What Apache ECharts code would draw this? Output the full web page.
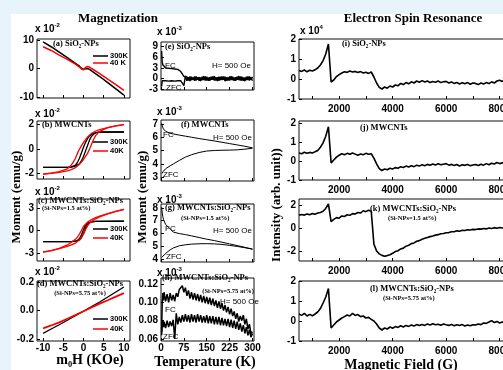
<!DOCTYPE html>
<html>
<head>
<meta charset="utf-8">
<script src="https://cdn.jsdelivr.net/npm/echarts@6/dist/echarts.min.js"></script>
<style>
html, body { margin: 0; padding: 0; overflow: hidden; background: #e8f4fb; }
#chart { width: 520px; height: 370px; }
</style>
</head>
<body>
<div id="chart"></div>
<script>
// ---------- M-H loops (x10^-2 emu/g), field in KOe ----------
const aBlack = [[-10,9.3],[-8,7.6],[-6,5.7],[-4,3.8],[-2,1.8],[-1,0.8],[-0.5,0.1],[0,-0.3],[0.5,-0.1],[1,0.0],[1.5,-0.3],[2,-0.8],[4,-2.8],[6,-4.9],[8,-7.1],[10,-9.3]];
const aRed = [[-10,7.6],[-8,6.3],[-6,4.7],[-4,3.2],[-2,1.5],[-1,0.5],[-0.5,-0.2],[0,-0.5],[0.5,0.4],[1,0.7],[1.5,0.5],[2,0.0],[4,-1.8],[6,-3.7],[8,-5.6],[10,-7.6]];

const bBlackUp = [[-10,-1.5],[-4,-1.5],[-3,-1.47],[-2,-1.4],[-1,-1.2],[-0.5,-0.95],[0,-0.6],[0.5,-0.15],[1,0.3],[1.5,0.75],[2,1.05],[2.5,1.22],[3,1.32],[4,1.39],[10,1.4]];
const bBlackDown = [[10,1.4],[4,1.4],[3,1.35],[2,1.22],[1.5,1.08],[1,0.85],[0.5,0.55],[0,0.15],[-0.5,-0.3],[-1,-0.75],[-1.5,-1.1],[-2,-1.32],[-3,-1.45],[-4,-1.5],[-10,-1.5]];
const bRedUp = [[-10,-2.05],[-8,-1.98],[-6,-1.9],[-4,-1.78],[-3,-1.68],[-2,-1.52],[-1,-1.25],[0,-0.85],[1,-0.35],[1.5,0.0],[2,0.4],[2.5,0.8],[3,1.1],[4,1.45],[6,1.76],[8,1.9],[10,2.0]];
const bRedDown = [[10,2.0],[8,1.9],[6,1.76],[4,1.6],[3,1.48],[2,1.3],[1,1.0],[0,0.55],[-1,0.0],[-1.5,-0.35],[-2,-0.75],[-2.5,-1.05],[-3,-1.3],[-4,-1.62],[-6,-1.85],[-8,-1.97],[-10,-2.05]];

const cBlackUp = [[-10,-1.5],[-3,-1.5],[-2,-1.45],[-1,-1.3],[-0.5,-1.0],[0,-0.4],[0.5,0.3],[1,0.8],[1.5,1.05],[2,1.15],[3,1.2],[10,1.22]];
const cBlackDown = [[10,1.22],[3,1.2],[2,1.15],[1,1.0],[0.5,0.7],[0,0.1],[-0.5,-0.6],[-1,-1.1],[-1.5,-1.35],[-2,-1.45],[-3,-1.5],[-10,-1.5]];
const cRedUp = [[-10,-2.9],[-8,-2.7],[-6,-2.45],[-4,-2.15],[-3,-1.95],[-2,-1.7],[-1,-1.3],[0,-0.5],[0.5,0.1],[1,0.6],[1.5,0.95],[2,1.2],[3,1.55],[4,1.8],[6,2.2],[8,2.55],[10,2.8]];
const cRedDown = [[10,2.8],[8,2.55],[6,2.25],[4,1.9],[3,1.7],[2,1.45],[1,1.1],[0,0.55],[-0.5,0.0],[-1,-0.5],[-1.5,-0.9],[-2,-1.2],[-3,-1.6],[-4,-1.95],[-6,-2.4],[-8,-2.7],[-10,-2.9]];

const dBlack = [[-10,-0.16],[-8,-0.13],[-6,-0.1],[-4,-0.068],[-2,-0.036],[0,-0.005],[2,0.027],[4,0.06],[6,0.095],[8,0.13],[10,0.165]];
const dRed = [[-10,-0.125],[-8,-0.105],[-6,-0.083],[-4,-0.058],[-2,-0.032],[0,-0.005],[2,0.022],[4,0.048],[6,0.072],[8,0.097],[10,0.122]];

// ---------- M-T curves (x10^-3 emu/g), temperature in K ----------
const tempNoisy = [2,4,6,8,10,15,20,25,30,35,40,45,50,55,60,65,70,75,80,85,90,95,100,105,110,115,120,125,130,135,140,145,150,155,160,165,170,175,180,185,190,195,200,205,210,215,220,225,230,235,240,245,250,255,260,265,270,275,280,285,290,295,300];
const eFC = [7.8,4.6,3.9,3.4,3.6,3.0,3.5,2.9,3.4,2.8,3.3,2.7,3.2,2.6,2.8,2.0,1.6,0.6,0.9,
  0.5,-0.5,0.6,-0.4,0.3,-0.6,0.6,-0.3,0.4,-0.7,0.5,-0.4,0.6,-0.5,0.3,-0.6,0.5,-0.3,0.7,-0.5,
  0.4,-0.6,0.5,-0.4,0.6,-0.7,0.3,-0.5,0.6,-0.4,0.5,-0.6,0.4,-0.3,0.7,-0.5,0.5,-0.6,0.3,-0.4,0.6,-0.5,0.4,-0.6];
const eZFC = [-2.2,-0.6,-0.3,-0.7,-0.4,-0.6,-0.3,-0.7,-0.4,-0.6,-0.3,-0.7,-0.4,-0.6,-0.3,-0.6,-0.4,-2.0,0.8,
  -0.6,0.4,-0.7,0.5,-0.3,0.6,-0.5,0.4,-0.6,0.3,-0.4,0.7,-0.5,0.5,-0.6,0.4,-0.3,0.6,-0.5,0.4,
  -0.7,0.5,-0.4,0.6,-0.3,0.5,-0.6,0.4,-0.5,0.7,-0.4,0.3,-0.6,0.5,-0.4,0.6,-0.5,0.3,-0.7,0.5,-0.4,0.6,-0.3,0.5];
const tempSmooth = [2,4,6,8,10,15,20,30,40,60,80,100,125,150,175,200,225,250,275,300];
const fFC = [7.05,6.85,6.72,6.62,6.55,6.45,6.38,6.3,6.25,6.16,6.08,6.0,5.9,5.81,5.72,5.62,5.52,5.42,5.32,5.2];
const fZFC = [3.25,3.32,3.38,3.44,3.5,3.62,3.72,3.85,3.98,4.25,4.5,4.68,4.85,4.96,5.0,5.02,5.03,5.05,5.1,5.17];
const gFC = [8.05,7.6,7.3,7.1,6.95,6.7,6.55,6.35,6.1,5.98,5.9,5.8,5.67,5.54,5.43,5.3,5.17,5.04,4.9,4.76];
const gZFC = [4.1,4.15,4.2,4.25,4.3,4.42,4.52,4.7,4.85,5.02,5.1,5.15,5.18,5.19,5.17,5.13,5.05,4.97,4.87,4.76];
const hFC = [0.068,0.100,0.110,0.102,0.111,0.101,0.109,0.100,0.110,0.102,0.108,0.101,0.110,0.106,0.114,
  0.112,0.118,0.111,0.116,0.107,0.113,0.104,0.111,0.103,0.110,0.102,0.109,0.101,0.108,0.100,0.107,0.099,0.106,0.098,0.105,
  0.097,0.104,0.096,0.102,0.094,0.101,0.093,0.099,0.091,0.097,0.089,0.095,0.087,0.093,0.085,0.090,0.082,0.088,0.079,0.085,
  0.080,0.086,0.076,0.082,0.071,0.076,0.066,0.068];
const hZFC = [0.064,0.074,0.080,0.073,0.079,0.072,0.080,0.073,0.079,0.074,0.081,0.060,0.088,0.076,0.084,
  0.078,0.086,0.079,0.087,0.079,0.086,0.078,0.087,0.079,0.086,0.078,0.087,0.079,0.086,0.078,0.085,0.078,0.086,0.077,0.085,
  0.077,0.085,0.076,0.084,0.076,0.084,0.075,0.083,0.075,0.082,0.074,0.082,0.073,0.081,0.072,0.080,0.071,0.079,0.070,0.077,
  0.068,0.075,0.066,0.073,0.064,0.070,0.062,0.066];

// ---------- ESR spectra (x10^4 arb. unit), field in G ----------
const esrField = [500,600,700,800,900,1000,1100,1200,1300,1400,1500,1600,1700,1800,1900,2000,2100,2200,2300,2400,2500,2600,2700,2800,2900,3000,3100,3200,3300,3400,3500,3600,3700,3800,3900,4000,4100,4200,4300,4400,4500,4600,4700,4800,4900,5000,5100,5200,5300,5400,5500,5600,5700,5800,5900,6000,6100,6200,6300,6400,6500,6600,6700,6800,6900,7000,7100,7200,7300,7400,7500,7600,7700,7800,7900,8000,8100,8200];
const esrI = [0.42,0.38,0.45,0.36,0.44,0.40,0.46,0.55,0.70,0.92,1.25,1.75,-0.15,-0.05,0.12,0.22,
  0.30,0.36,0.33,0.40,0.35,0.38,0.32,0.37,0.30,0.34,0.28,0.35,0.10,-0.20,-0.42,-0.50,-0.40,-0.46,-0.35,-0.40,
  -0.30,-0.34,-0.22,-0.28,-0.18,-0.24,-0.14,-0.20,-0.10,-0.16,-0.08,-0.15,-0.10,-0.18,-0.12,-0.16,-0.10,-0.18,-0.14,-0.12,
  -0.20,-0.15,-0.22,-0.17,-0.25,-0.19,-0.24,-0.18,-0.26,-0.20,-0.22,-0.28,-0.20,-0.25,-0.18,-0.23,-0.14,-0.20,-0.10,-0.06,-0.12,-0.04];
const esrJ = [0.42,0.38,0.46,0.40,0.45,0.42,0.48,0.55,0.72,0.95,1.30,1.80,-0.10,0.05,0.20,0.30,
  0.38,0.33,0.40,0.35,0.42,0.36,0.30,0.37,0.33,0.40,0.35,0.38,0.15,-0.15,-0.40,-0.50,-0.42,-0.46,-0.38,-0.42,
  -0.35,-0.38,-0.30,-0.34,-0.27,-0.32,-0.25,-0.30,-0.22,-0.27,-0.20,-0.25,-0.18,-0.22,-0.16,-0.21,-0.15,-0.20,-0.17,-0.14,
  -0.22,-0.18,-0.24,-0.19,-0.26,-0.20,-0.23,-0.18,-0.25,-0.21,-0.19,-0.24,-0.17,-0.22,-0.14,-0.20,-0.12,-0.16,-0.08,-0.14,-0.10,-0.06];
const esrK = [1.10,1.18,1.12,1.22,1.15,1.25,1.20,1.30,1.35,1.45,1.70,2.10,0.55,0.75,0.90,0.85,
  1.05,1.00,1.15,1.10,1.25,1.22,1.35,1.30,1.50,1.42,1.55,1.45,-1.40,-2.00,-2.25,-2.38,-2.45,-2.40,-2.32,-2.20,
  -2.05,-1.98,-1.82,-1.75,-1.58,-1.50,-1.36,-1.30,-1.15,-1.10,-0.98,-0.90,-0.82,-0.75,-0.70,-0.62,-0.58,-0.50,-0.48,-0.42,
  -0.40,-0.33,-0.33,-0.25,-0.28,-0.20,-0.22,-0.15,-0.18,-0.12,-0.14,-0.08,-0.10,-0.04,-0.08,0.00,-0.05,0.03,-0.02,0.04,0.00,0.05];
const esrL = [0.35,0.28,0.38,0.25,0.33,0.26,0.35,0.45,0.62,0.90,1.20,1.62,-0.35,-0.20,-0.05,0.05,
  0.15,0.22,0.30,0.25,0.38,0.28,0.32,0.22,0.25,0.15,0.18,0.08,0.00,-0.15,-0.35,-0.45,-0.35,-0.40,-0.30,-0.36,
  -0.28,-0.32,-0.24,-0.30,-0.22,-0.27,-0.20,-0.25,-0.18,-0.23,-0.17,-0.22,-0.15,-0.20,-0.14,-0.19,-0.16,-0.21,-0.15,-0.19,
  -0.22,-0.17,-0.24,-0.19,-0.23,-0.18,-0.25,-0.20,-0.24,-0.19,-0.20,-0.15,-0.18,-0.10,-0.12,-0.05,0.02,-0.08,-0.02,-0.10,-0.05,-0.12];

// ---------- tick labels ----------
const fieldTicks = [-10, -5, 0, 5, 10];
const tempTicks = [0, 75, 150, 225, 300];
const esrTicks = [2000, 4000, 6000, 8000];
const esrMinorTicks = [1000, 2000, 3000, 4000, 5000, 6000, 7000, 8000];
const yTicksA = [-10, 0, 10];
const yTicksB = [-2, 0, 2];
const yTicksC = [-3, 0, 3];
const yTicksD = [-0.2, 0.0, 0.2];
const yTicksE = [-3, 0, 3, 6, 9];
const yTicksF = [3, 4, 5, 6, 7];
const yTicksG = [4, 5, 6, 7, 8];
const yTicksH = [0.06, 0.08, 0.10, 0.12];
const yTicksI = [-1, 0, 1, 2];
const yTicksK = [-2, 0, 2];

const SANS = '"Liberation Sans", Arial, sans-serif';
const SERIF = '"Liberation Serif", "Times New Roman", serif';
const RED = '#ff0000';

// panel boxes (pixel layout)
const panels = [
  { box: [37, 39, 93, 59],   x: [-11.5, 11.5], y: [-10.3, 10.3], xt: fieldTicks, xl: false, yt: yTicksA },
  { box: [37, 121, 93, 58],  x: [-11.5, 11.5], y: [-2.45, 2.3], xt: fieldTicks, xl: false, yt: yTicksB },
  { box: [37, 199, 93, 62],  x: [-11.5, 11.5], y: [-4.1, 4.2], xt: fieldTicks, xl: false, yt: yTicksC },
  { box: [37, 281, 93, 60],  x: [-11.5, 11.5], y: [-0.214, 0.207], xt: fieldTicks, xl: true, yt: yTicksD, yf: 1 },
  { box: [161, 42, 93, 48],  x: [0, 305], y: [-3.2, 10.3], xt: tempTicks, xl: false, yt: yTicksE },
  { box: [161, 120, 93, 61], x: [0, 305], y: [2.7, 7.3], xt: tempTicks, xl: false, yt: yTicksF },
  { box: [161, 204, 93, 58], x: [0, 305], y: [3.75, 8.3], xt: tempTicks, xl: false, yt: yTicksG },
  { box: [161, 278, 93, 63], x: [0, 305], y: [0.0578, 0.1265], xt: tempTicks, xl: true, yt: yTicksH, yf: 2 },
  { box: [299, 39, 206, 60],  x: [500, 8200], y: [-1, 2], xt: esrMinorTicks, xlv: esrTicks, xl: true, yt: yTicksI, xm: 5 },
  { box: [299, 121, 206, 59], x: [500, 8200], y: [-1, 2.1], xt: esrMinorTicks, xlv: esrTicks, xl: true, yt: yTicksI, xm: 5 },
  { box: [299, 199, 206, 62], x: [500, 8200], y: [-2.87, 2.52], xt: esrMinorTicks, xlv: esrTicks, xl: true, yt: yTicksK, xm: 5 },
  { box: [299, 281, 206, 60], x: [500, 8200], y: [-1, 2], xt: esrMinorTicks, xlv: esrTicks, xl: true, yt: yTicksI, xm: 5 }
];

const labelStyle = { color: '#000', fontFamily: SANS, fontWeight: 'bold', fontSize: 10 };

const grids = panels.map((p) => ({
  left: p.box[0], top: p.box[1], width: p.box[2], height: p.box[3],
  show: true, borderColor: '#111', borderWidth: 1, backgroundColor: 'transparent',
  containLabel: false, outerBoundsMode: 'none'
}));
const xAxes = panels.map((p, i) => ({
  type: 'value', gridIndex: i, min: p.x[0], max: p.x[1], position: 'bottom',
  splitLine: { show: false }, axisLine: { show: false, onZero: false },
  axisTick: { inside: true, length: 3, customValues: p.xt, lineStyle: { color: '#000' } },
  axisLabel: Object.assign({
    show: p.xl, customValues: p.xlv || p.xt, margin: p.xm || 2,
    formatter: (v) => String(v)
  }, labelStyle)
}));
const yAxes = panels.map((p, i) => ({
  type: 'value', gridIndex: i, min: p.y[0], max: p.y[1], position: 'left',
  splitLine: { show: false }, axisLine: { show: false, onZero: false },
  axisTick: { inside: true, length: 3, customValues: p.yt, lineStyle: { color: '#000' } },
  axisLabel: Object.assign({
    customValues: p.yt, margin: 3,
    formatter: (v) => (p.yf ? Number(v).toFixed(p.yf) : String(v))
  }, labelStyle)
}));

function line(idx, data, color, width) {
  return {
    type: 'line', xAxisIndex: idx, yAxisIndex: idx, data: data,
    showSymbol: false, symbol: 'none', silent: true, animation: false,
    lineStyle: { color: color, width: width || 1 }
  };
}
const zip = (xs, ys) => xs.map((x, i) => [x, ys[i]]);

const series = [
  line(0, aBlack, '#000', 1.5), line(0, aRed, RED, 1.5),
  line(1, bBlackUp, '#000', 1.3), line(1, bBlackDown, '#000', 1.3),
  line(1, bRedUp, RED, 1.3), line(1, bRedDown, RED, 1.3),
  line(2, cBlackUp, '#000', 1.3), line(2, cBlackDown, '#000', 1.3),
  line(2, cRedUp, RED, 1.3), line(2, cRedDown, RED, 1.3),
  line(3, dBlack, '#000', 1.3), line(3, dRed, RED, 1.8),
  line(4, zip(tempNoisy, eFC), '#000', 1.4), line(4, zip(tempNoisy, eZFC), '#000', 1.4),
  line(5, zip(tempSmooth, fFC), '#000', 1), line(5, zip(tempSmooth, fZFC), '#000', 1),
  line(6, zip(tempSmooth, gFC), '#000', 1), line(6, zip(tempSmooth, gZFC), '#000', 1),
  line(7, zip(tempNoisy, hFC), '#000', 1.5), line(7, zip(tempNoisy, hZFC), '#000', 1.5),
  line(8, zip(esrField, esrI), '#000', 1.6), line(9, zip(esrField, esrJ), '#000', 1.6),
  line(10, zip(esrField, esrK), '#000', 1.6), line(11, zip(esrField, esrL), '#000', 1.6)
];

// ---------- text ----------
function txt(x, y, text, font, align, extra) {
  return Object.assign({
    type: 'text', x: x, y: y, silent: true,
    style: { text: text, font: font, fill: '#000', textAlign: align || 'left', textVerticalAlign: 'middle' }
  }, extra || {});
}
function expo(x, y, power) {
  return {
    type: 'text', x: x, y: y, silent: true,
    style: {
      text: 'x 10{s|' + power + '}', font: 'bold 10px ' + SANS, fill: '#000',
      textAlign: 'left', textVerticalAlign: 'middle',
      rich: { s: { font: 'bold 6px ' + SANS, fill: '#000', padding: [0, 0, 7, 0] } }
    }
  };
}
const PL = 'bold 8.5px ' + SERIF;
const SUB = 'bold 6.5px ' + SERIF;
const SM = '8px ' + SANS;
const TITLE = 'bold 13px ' + SERIF;

const graphics = [
  { type: 'rect', z: -10, silent: true, shape: { x: 11, y: 14, width: 600, height: 400 }, style: { fill: '#fff' } },
  txt(118, 19, 'Magnetization', TITLE, 'center'),
  txt(413, 19, 'Electron Spin Resonance', TITLE, 'center'),
  expo(35, 29, '-2'), expo(35, 114, '-2'), expo(35, 192, '-2'), expo(35, 272, '-2'),
  expo(157, 32, '-3'), expo(157, 112, '-3'), expo(157, 200, '-3'), expo(157, 273, '-3'),
  expo(300, 31, '4'),
  txt(53, 44, '(a) SiO₂-NPs', PL),
  txt(42, 125, '(b) MWCNTs', PL),
  txt(38, 201, '(c) MWCNTs:SiO₂-NPs', PL),
  txt(42, 208, '(Si-NPs=1.5 at%)', SUB),
  txt(37, 284, '(d) MWCNTs:SiO₂-NPs', PL),
  txt(80, 293, '(Si-NPs=5.75 at%)', SUB, 'center'),
  txt(165, 47, '(e) SiO₂-NPs', PL),
  txt(181, 125, '(f) MWCNTs', PL),
  txt(165, 208, '(g) MWCNTs:SiO₂-NPs', PL),
  txt(181, 218, '(Si-NPs=1.5 at%)', SUB),
  txt(162, 278, '(h) MWCNTs:SiO₂-NPs', PL),
  txt(254, 291, '(Si-NPs=5.75 at%)', SUB, 'right'),
  txt(342, 44, '(i) SiO₂-NPs', PL),
  txt(360, 128, '(j) MWCNTs', PL),
  txt(370, 209, '(k) MWCNTs:SiO₂-NPs', PL),
  txt(388, 218, '(Si-NPs=1.5 at%)', SUB),
  txt(370, 289, '(l) MWCNTs:SiO₂-NPs', PL),
  txt(383, 298, '(Si-NPs=5.75 at%)', SUB),
  txt(165, 66, 'FC', SM), txt(166, 88, 'ZFC', SM), txt(212, 66, 'H= 500 Oe', SM),
  txt(163, 135, 'FC', SM), txt(163, 175, 'ZFC', SM), txt(213, 138, 'H= 500 Oe', SM),
  txt(165, 229, 'FC', SM), txt(166, 257, 'ZFC', SM), txt(213, 231, 'H= 500 Oe', SM),
  txt(165, 310, 'FC', SM), txt(163, 337, 'ZFC', SM), txt(220, 302, 'H= 500 Oe', SM),
  txt(17, 197, 'Moment (emu/g)', TITLE, 'center', { rotation: Math.PI / 2 }),
  txt(143, 197, 'Moment (emu/g)', TITLE, 'center', { rotation: Math.PI / 2 }),
  txt(277, 205, 'Intensity (arb. unit))', TITLE, 'center', { rotation: Math.PI / 2 }),
  txt(90, 360, 'm₀H (KOe)', 'bold 14px ' + SERIF, 'center'),
  txt(205, 362, 'Temperature (K)', 'bold 14px ' + SERIF, 'center'),
  txt(401, 365, 'Magnetic Field (G)', 'bold 14px ' + SERIF, 'center')
];
// legends of the M-H panels
const legendRows = [[56, 63, '300K', '40 K'], [142, 151, '300K', '40K'], [229, 238, '300K', '40K'], [319, 329, '300K', '40K']];
legendRows.forEach((r) => {
  graphics.push({ type: 'line', silent: true, shape: { x1: 93, y1: r[0], x2: 108, y2: r[0] }, style: { stroke: '#000', lineWidth: 1.5 } });
  graphics.push({ type: 'line', silent: true, shape: { x1: 93, y1: r[1], x2: 108, y2: r[1] }, style: { stroke: RED, lineWidth: 1.5 } });
  graphics.push(txt(110, r[0], r[2], 'bold 7.5px ' + SANS));
  graphics.push(txt(110, r[1], r[3], 'bold 7.5px ' + SANS));
});

const chart = echarts.init(document.getElementById('chart'));
chart.setOption({
  backgroundColor: '#e8f4fb',
  animation: false,
  grid: grids,
  xAxis: xAxes,
  yAxis: yAxes,
  series: series,
  graphic: { elements: graphics }
});
</script>
</body>
</html>
